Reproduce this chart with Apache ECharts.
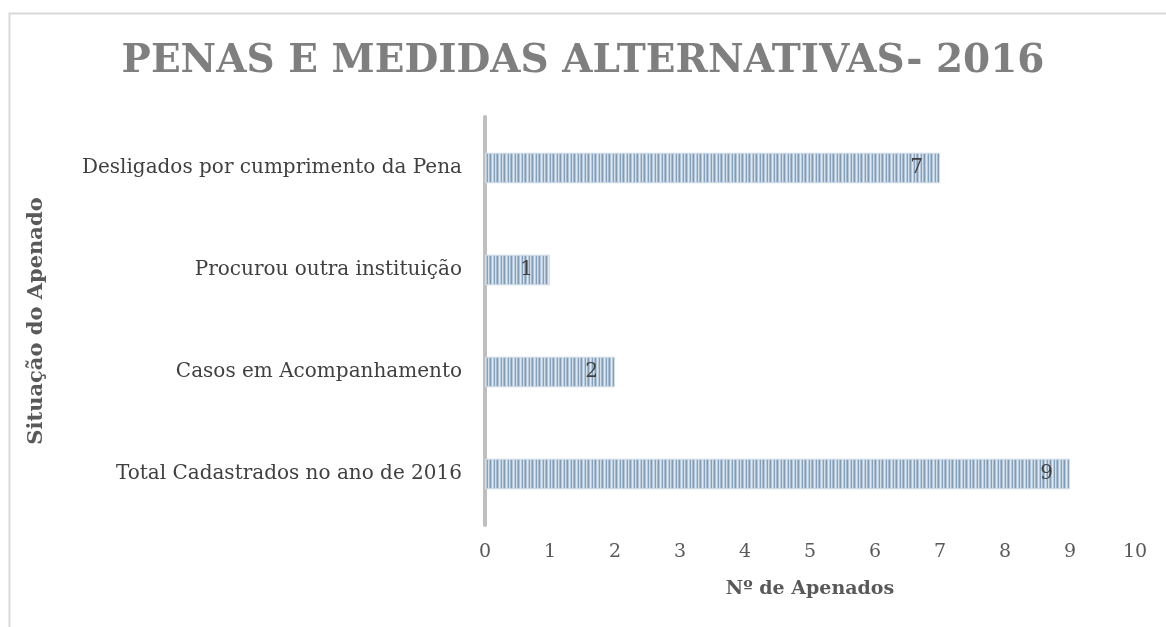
<!DOCTYPE html>
<html>
<head>
<meta charset="utf-8">
<script src="https://cdn.jsdelivr.net/npm/echarts@6/dist/echarts.min.js"></script>
<style>
  html, body { margin: 0; padding: 0; background: #fff; }
  #main { width: 1166px; height: 627px; }
</style>
</head>
<body>
<div id="main"></div>
<script>
// dados do gráfico
var categorias = ['Total Cadastrados no ano de 2016', 'Casos em Acompanhamento', 'Procurou outra instituição', 'Desligados por cumprimento da Pena'];
var valores = [9, 2, 1, 7];
var ticks = [0, 1, 2, 3, 4, 5, 6, 7, 8, 9, 10];

// padrão listrado das barras
var listras = document.createElement('canvas');
listras.width = 7;
listras.height = 4;
var ctx = listras.getContext('2d');
var cores = ['#7f9bb6', '#b3c5d8', '#e0e8f1', '#b9cadb', '#86a1bb', '#d3dee9', '#a7bcd0'];
for (var i = 0; i < cores.length; i++) {
  ctx.fillStyle = cores[i];
  ctx.fillRect(i, 0, 1, 4);
}

var fonte = 'DejaVu Serif';
var chart = echarts.init(document.getElementById('main'));
chart.setOption({
  backgroundColor: '#fff',
  animation: false,
  title: {
    text: 'PENAS E MEDIDAS ALTERNATIVAS- 2016',
    left: 'center',
    top: 37,
    textStyle: { fontFamily: fonte, fontWeight: 'bold', fontSize: 39, color: '#7f7f7f' }
  },
  graphic: [{
    type: 'polyline',
    shape: { points: [[9.5, 700], [9.5, 13.5], [1200, 13.5]] },
    style: { stroke: '#d9d9d9', lineWidth: 2, fill: null },
    silent: true
  }],
  grid: { left: 485, right: 31, top: 117, bottom: 102 },
  xAxis: {
    type: 'value',
    min: ticks[0],
    max: ticks[ticks.length - 1],
    interval: 1,
    name: 'Nº de Apenados',
    nameLocation: 'middle',
    nameGap: 55,
    nameTextStyle: { fontFamily: fonte, fontWeight: 'bold', fontSize: 19, color: '#595959' },
    axisLine: { show: false },
    axisTick: { show: false },
    splitLine: { show: false },
    axisLabel: { fontFamily: fonte, fontSize: 19, color: '#595959', margin: 18 }
  },
  yAxis: {
    type: 'category',
    data: categorias,
    name: 'Situação do Apenado',
    nameLocation: 'middle',
    nameGap: 438,
    nameRotate: 90,
    nameTextStyle: { fontFamily: fonte, fontWeight: 'bold', fontSize: 21, color: '#595959' },
    axisLine: { show: true, lineStyle: { color: '#bfbfbf', width: 4 } },
    axisTick: { show: false },
    axisLabel: { fontFamily: fonte, fontSize: 20, color: '#404040', margin: 23 }
  },
  series: [{
    type: 'bar',
    data: valores,
    barWidth: '30%',
    itemStyle: {
      color: { image: listras, repeat: 'repeat' },
      borderColor: '#d0dce8',
      borderWidth: 1
    },
    label: {
      show: true,
      position: 'insideRight',
      distance: 17,
      fontFamily: fonte,
      fontSize: 20,
      color: '#404040'
    }
  }]
});
</script>
</body>
</html>
